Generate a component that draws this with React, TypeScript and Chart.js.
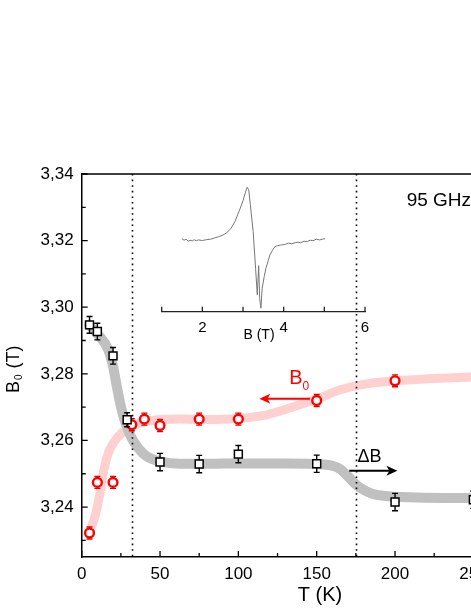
import React, { useEffect, useRef } from 'react';
import { Chart, registerables } from 'chart.js';
Chart.register(...registerables);

// ΔB data (black squares)
const dBTemps = [5, 10, 20, 29, 50, 75, 100, 150, 200, 250];
const dBValues = [3.2947, 3.2927, 3.2854, 3.2662, 3.2535, 3.2529, 3.2559, 3.2530, 3.2415, 3.2422];
const dBErrors = [0.0025, 0.0025, 0.0025, 0.0021, 0.0026, 0.0026, 0.0026, 0.0026, 0.0026, 0.0026];

// B0 data (red circles)
const b0Temps = [5, 10, 20, 32, 40, 50, 75, 100, 150, 200];
const b0Values = [3.2322, 3.2474, 3.2474, 3.2647, 3.2664, 3.2645, 3.2664, 3.2664, 3.2720, 3.2779];
const b0Errors = [0.0018, 0.0018, 0.0018, 0.0018, 0.0018, 0.0018, 0.0018, 0.0018, 0.0018, 0.0018];

// guide curves
const grayFitT = [4.7, 10.6, 17, 20.2, 22.3, 25.5, 28.7, 31.9, 36.1, 41.5, 50, 62.7, 82, 100, 130, 154, 160, 165, 170, 174.5, 179, 185, 192.5, 213.8, 245.8, 300];
const grayFitV = [3.2947, 3.2917, 3.2872, 3.2818, 3.2765, 3.2692, 3.2642, 3.2607, 3.2577, 3.2552, 3.2537, 3.2530, 3.2530, 3.2531, 3.2531, 3.2528, 3.2524, 3.2514, 3.2492, 3.2470, 3.2454, 3.2441, 3.2434, 3.2429, 3.2427, 3.2426];
const pinkFitT = [4.7, 8.5, 11.7, 14.2, 17, 20.2, 25.5, 31.9, 41.5, 62.7, 76, 100, 118, 139, 150, 165, 182, 203, 245.8, 300];
const pinkFitV = [3.2322, 3.2372, 3.2442, 3.2512, 3.2562, 3.2592, 3.2622, 3.2642, 3.2657, 3.2664, 3.2663, 3.2666, 3.2677, 3.2707, 3.2724, 3.2752, 3.2770, 3.2780, 3.2790, 3.2792];

// vertical dotted markers (K)
const markerTemps = [32, 175];

// axes
const yMin = 3.225, yMax = 3.34;
const xMin = 0, xMax = 300;
const yTickValues = [3.23, 3.24, 3.25, 3.26, 3.27, 3.28, 3.29, 3.30, 3.31, 3.32, 3.33, 3.34];
const xTickValues = [0, 25, 50, 75, 100, 125, 150, 175, 200, 225, 250, 275, 300];

// inset EPR spectrum
const specB = [1.5, 1.55, 1.6, 1.65, 1.7, 1.75, 1.8, 1.85, 1.9, 2.0, 2.1, 2.2, 2.3, 2.4, 2.5, 2.6, 2.7, 2.8, 2.9, 3.0, 3.05, 3.1, 3.14, 3.18, 3.25, 3.31, 3.35, 3.385, 3.41, 3.44, 3.47, 3.52, 3.56, 3.62, 3.66, 3.72, 3.78, 3.85, 3.92, 3.98, 4.05, 4.12, 4.2, 4.28, 4.35, 4.42, 4.5, 4.58, 4.65, 4.72, 4.8, 4.88, 4.95, 5.02];
const specI = [73, 71.5, 72.5, 70.5, 71.5, 70.8, 72, 71, 71.8, 71.2, 72, 72.5, 73.8, 75, 76.5, 79, 83, 90, 100, 111, 118, 124.5, 122, 107, 80, 43, 17, 46, 13, 3.5, 23, 35, 43, 51, 56.7, 61, 65, 66, 66.5, 67, 67.5, 68.5, 68, 69, 69.5, 69, 70.5, 70, 71.5, 71, 72.5, 71.8, 72.5, 73];
const insetTicks = [1, 2, 3, 4, 5, 6];

const FONT = "'Liberation Sans', Arial, Helvetica, sans-serif";

function drawArrow(ctx: CanvasRenderingContext2D, x1: number, x2: number, y: number, color: string) {
  const dir = Math.sign(x2 - x1);
  ctx.save();
  ctx.strokeStyle = color;
  ctx.fillStyle = color;
  ctx.lineWidth = 2;
  ctx.beginPath();
  ctx.moveTo(x1, y);
  ctx.lineTo(x2 - dir * 6, y);
  ctx.stroke();
  ctx.beginPath();
  ctx.moveTo(x2, y);
  ctx.lineTo(x2 - dir * 11, y - 5);
  ctx.lineTo(x2 - dir * 8, y);
  ctx.lineTo(x2 - dir * 11, y + 5);
  ctx.closePath();
  ctx.fill();
  ctx.restore();
}

export default function App() {
  const mainRef = useRef<HTMLCanvasElement>(null);
  const insetRef = useRef<HTMLCanvasElement>(null);

  useEffect(() => {
    const errMap: Record<number, { errs: number[]; color: string }> = {
      0: { errs: dBErrors, color: '#000' },
      1: { errs: b0Errors, color: '#e00000' },
    };

    const mainPlugin = {
      id: 'mainDecor',
      beforeDatasetDraw(chart: any, args: any) {
        const { ctx, scales: { x, y }, chartArea } = chart;
        if (args.index === 1) {
          ctx.save();
          ctx.strokeStyle = '#000';
          ctx.lineWidth = 1.6;
          ctx.setLineDash([1.6, 4]);
          markerTemps.forEach((t) => {
            const px = Math.round(x.getPixelForValue(t)) + 0.5;
            ctx.beginPath();
            ctx.moveTo(px, chartArea.top);
            ctx.lineTo(px, chartArea.bottom);
            ctx.stroke();
          });
          ctx.restore();
        }
        const e = errMap[args.index];
        if (!e) return;
        const ds = chart.data.datasets[args.index];
        ctx.save();
        ctx.strokeStyle = e.color;
        ctx.lineWidth = 1.4;
        ds.data.forEach((p: any, i: number) => {
          const px = x.getPixelForValue(p.x);
          const y1 = y.getPixelForValue(p.y + e.errs[i]);
          const y2 = y.getPixelForValue(p.y - e.errs[i]);
          ctx.beginPath();
          ctx.moveTo(px, y1); ctx.lineTo(px, y2);
          ctx.moveTo(px - 3, y1); ctx.lineTo(px + 3, y1);
          ctx.moveTo(px - 3, y2); ctx.lineTo(px + 3, y2);
          ctx.stroke();
        });
        ctx.restore();
      },
      afterDraw(chart: any) {
        const { ctx, scales: { x, y }, chartArea } = chart;
        ctx.save();
        // frame
        ctx.strokeStyle = '#000';
        ctx.lineWidth = 1.5;
        ctx.beginPath();
        ctx.moveTo(chartArea.left, chartArea.top);
        ctx.lineTo(chartArea.right, chartArea.top);
        ctx.lineTo(chartArea.right, chartArea.bottom);
        ctx.stroke();

        // inward ticks
        ctx.lineWidth = 1.3;
        ctx.beginPath();
        yTickValues.forEach((v) => {
          const py = y.getPixelForValue(v);
          const major = Math.round(v * 100) % 2 === 0;
          ctx.moveTo(chartArea.left, py);
          ctx.lineTo(chartArea.left + (major ? 6 : 4), py);
        });
        xTickValues.forEach((v) => {
          const px = x.getPixelForValue(v);
          const major = v % 50 === 0;
          ctx.moveTo(px, chartArea.bottom);
          ctx.lineTo(px, chartArea.bottom - (major ? 6 : 4));
        });
        ctx.stroke();

        // 95 GHz
        ctx.fillStyle = '#000';
        ctx.textBaseline = 'alphabetic';
        ctx.textAlign = 'left';
        ctx.font = `19px ${FONT}`;
        ctx.fillText('95 GHz', x.getPixelForValue(207.4), y.getPixelForValue(3.3305));

        // B0 label + arrow
        ctx.fillStyle = '#ff0000';
        ctx.font = `20px ${FONT}`;
        const bx = x.getPixelForValue(132.5);
        const by = y.getPixelForValue(3.277);
        ctx.fillText('B', bx, by);
        const wB = ctx.measureText('B').width;
        ctx.font = `12px ${FONT}`;
        ctx.fillText('0', bx + wB, by + 6.5);
        drawArrow(ctx, x.getPixelForValue(145.7), x.getPixelForValue(113.4), y.getPixelForValue(3.2725), '#ff0000');

        // ΔB label + arrow
        ctx.fillStyle = '#000';
        ctx.font = `18px ${FONT}`;
        ctx.fillText('ΔB', x.getPixelForValue(176), y.getPixelForValue(3.2536));
        drawArrow(ctx, x.getPixelForValue(170.8), x.getPixelForValue(201.5), y.getPixelForValue(3.2509), '#000');

        // axis titles
        ctx.font = `20px ${FONT}`;
        ctx.textAlign = 'center';
        ctx.fillText('T (K)', 320, 601);

        ctx.translate(18.5, 393);
        ctx.rotate(-Math.PI / 2);
        ctx.textAlign = 'left';
        ctx.font = `18px ${FONT}`;
        ctx.fillText('B', 0, 0);
        const w1 = ctx.measureText('B').width;
        ctx.font = `10px ${FONT}`;
        ctx.fillText('0', w1 + 1, 3);
        const w2 = ctx.measureText('0').width;
        ctx.font = `18px ${FONT}`;
        ctx.fillText(' (T)', w1 + w2 + 2, 0);
        ctx.restore();
      },
    };

    const mainChart = new Chart(mainRef.current!, {
      type: 'line',
      data: {
        datasets: [
          {
            label: 'ΔB',
            data: dBTemps.map((t, i) => ({ x: t, y: dBValues[i] })),
            showLine: false,
            pointStyle: 'rect',
            pointRadius: 5.6,
            pointBorderWidth: 1.5,
            pointBorderColor: '#000',
            pointBackgroundColor: '#fff',
          },
          {
            label: 'B0',
            data: b0Temps.map((t, i) => ({ x: t, y: b0Values[i] })),
            showLine: false,
            pointStyle: 'circle',
            pointRadius: 4.4,
            pointBorderWidth: 2.4,
            pointBorderColor: '#ff0000',
            pointBackgroundColor: '#fff',
          },
          {
            label: 'gray fit',
            data: grayFitT.map((t, i) => ({ x: t, y: grayFitV[i] })),
            borderColor: '#c0c0c0',
            borderWidth: 10,
            pointRadius: 0,
            cubicInterpolationMode: 'monotone',
            borderCapStyle: 'round',
            borderJoinStyle: 'round',
          },
          {
            label: 'pink fit',
            data: pinkFitT.map((t, i) => ({ x: t, y: pinkFitV[i] })),
            borderColor: '#ffd0d0',
            borderWidth: 9,
            pointRadius: 0,
            cubicInterpolationMode: 'monotone',
            borderCapStyle: 'round',
            borderJoinStyle: 'round',
          },
        ],
      },
      options: {
        responsive: false,
        animation: false,
        devicePixelRatio: 1,
        events: [],
        layout: { padding: { left: 0, right: 48.3, top: 174, bottom: 0 } },
        plugins: { legend: { display: false }, tooltip: { enabled: false }, title: { display: false } },
        scales: {
          x: {
            type: 'linear',
            min: xMin,
            max: xMax,
            afterFit: (s: any) => { s.height = 52; },
            border: { display: true, color: '#000', width: 1.5 },
            grid: { display: false, drawTicks: false, tickLength: 0 },
            ticks: {
              stepSize: 25,
              autoSkip: false,
              maxRotation: 0,
              includeBounds: false,
              padding: 7,
              color: '#000',
              font: { family: FONT, size: 17 },
              callback: (v: any) => (Math.round(v) % 50 === 0 ? String(Math.round(v)) : ''),
            },
          },
          y: {
            type: 'linear',
            min: yMin,
            max: yMax,
            afterFit: (s: any) => { s.width = 81.7; },
            border: { display: true, color: '#000', width: 1.5 },
            grid: { display: false, drawTicks: false, tickLength: 0 },
            ticks: {
              stepSize: 0.01,
              autoSkip: false,
              includeBounds: false,
              padding: 8,
              color: '#000',
              font: { family: FONT, size: 17 },
              callback: (v: any) => {
                const k = Math.round(v * 100);
                return k % 2 === 0 ? (k / 100).toFixed(2).replace('.', ',') : '';
              },
            },
          },
        },
      },
      plugins: [mainPlugin],
    } as any);

    const insetPlugin = {
      id: 'insetDecor',
      afterDraw(chart: any) {
        const { ctx, scales: { x }, chartArea } = chart;
        ctx.save();
        ctx.strokeStyle = '#222';
        ctx.lineWidth = 1.3;
        insetTicks.forEach((v) => {
          const px = x.getPixelForValue(v);
          ctx.beginPath();
          ctx.moveTo(px, chartArea.bottom);
          ctx.lineTo(px, chartArea.bottom - 5);
          ctx.stroke();
        });
        ctx.fillStyle = '#000';
        ctx.font = `14px ${FONT}`;
        ctx.textAlign = 'center';
        ctx.textBaseline = 'alphabetic';
        ctx.fillText('B (T)', 109, 163);
        ctx.restore();
      },
    };

    const insetChart = new Chart(insetRef.current!, {
      type: 'line',
      data: {
        datasets: [
          {
            data: specB.map((b, i) => ({ x: b, y: specI[i] })),
            borderColor: '#777',
            borderWidth: 1,
            pointRadius: 0,
            tension: 0,
          },
        ],
      },
      options: {
        responsive: false,
        animation: false,
        devicePixelRatio: 1,
        events: [],
        layout: { padding: { left: 11.7, right: 15, top: 0, bottom: 0 } },
        plugins: { legend: { display: false }, tooltip: { enabled: false } },
        scales: {
          x: {
            type: 'linear',
            min: 1,
            max: 6,
            afterFit: (s: any) => { s.height = 34.3; },
            border: { display: true, color: '#222', width: 1.3 },
            grid: { display: false, drawTicks: false, tickLength: 0 },
            ticks: {
              stepSize: 1,
              autoSkip: false,
              maxRotation: 0,
              padding: 7,
              color: '#000',
              font: { family: FONT, size: 15 },
              callback: (v: any) => (Math.round(v) % 2 === 0 ? String(Math.round(v)) : ''),
            },
          },
          y: { display: false, min: 0, max: 135.7 },
        },
      },
      plugins: [insetPlugin],
    } as any);

    return () => {
      mainChart.destroy();
      insetChart.destroy();
    };
  }, []);

  return (
    <div style={{ position: 'fixed', left: 0, top: 0, width: 471, height: 609, overflow: 'hidden', background: '#fff' }}>
      <canvas ref={mainRef} width={600} height={609} style={{ position: 'absolute', left: 0, top: 0, width: 600, height: 609 }} />
      <canvas ref={insetRef} width={230} height={170} style={{ position: 'absolute', left: 150, top: 176, width: 230, height: 170 }} />
    </div>
  );
}
